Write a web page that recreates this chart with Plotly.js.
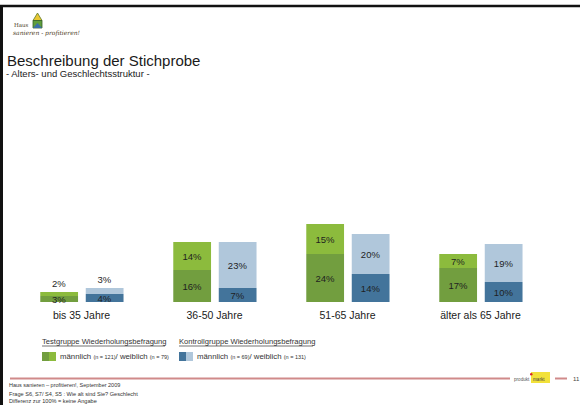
<!DOCTYPE html>
<html>
<head>
<meta charset="utf-8">
<script src="https://cdn.plot.ly/plotly-3.0.1.min.js"></script>
<style>html,body{margin:0;padding:0;background:#fff;}#chart{width:580px;height:405px;}</style>
</head>
<body>
<div id="chart"></div>
<script>
// ---- data ----
const categories = ['bis 35 Jahre', '36-50 Jahre', '51-65 Jahre', 'älter als 65 Jahre'];
const testMale = [3, 16, 24, 17];      // Testgruppe männlich
const testFemale = [2, 14, 15, 7];     // Testgruppe weiblich
const controlMale = [4, 7, 14, 10];    // Kontrollgruppe männlich
const controlFemale = [3, 23, 20, 19]; // Kontrollgruppe weiblich

// ---- layout geometry ----
const W = 580, H = 405;
const M = {l: 15, r: 33, t: 102, b: 103};
const PW = W - M.l - M.r, PH = H - M.t - M.b;
const px = x => (x - M.l) / PW;
const py = y => 1 - (y - M.t) / PH;

const FONT = 'Liberation Sans, Arial, sans-serif';
const C = {g1: '#729e3f', g2: '#8cbb3d', b1: '#43749b', b2: '#b0c7db', txt: '#1f1f1f'};
const pct = v => v + '%';

function barTrace(vals, base, color, offset, positions) {
  return {
    type: 'bar', x: categories, y: vals, base: base,
    offset: offset, width: 0.284,
    marker: {color: color, line: {width: 0}},
    text: vals.map(pct), textposition: positions,
    textfont: {family: FONT, size: 9.5, color: C.txt},
    insidetextfont: {family: FONT, size: 9.5, color: C.txt},
    outsidetextfont: {family: FONT, size: 9.5, color: C.txt},
    insidetextanchor: 'middle', constraintext: 'none', cliponaxis: false,
    hoverinfo: 'skip', showlegend: false
  };
}
const inside = categories.map(() => 'inside');
const topPos = categories.map((c, i) => i === 0 ? 'outside' : 'inside');

const data = [
  barTrace(testMale, undefined, C.g1, -0.31, inside),
  barTrace(testFemale, testMale, C.g2, -0.31, topPos),
  barTrace(controlMale, undefined, C.b1, 0.032, inside),
  barTrace(controlFemale, controlMale, C.b2, 0.032, topPos)
];

const shapes = [
  // page border
  {type: 'line', xref: 'paper', yref: 'paper', x0: px(0), x1: px(580), y0: py(6), y1: py(6), line: {color: '#111', width: 2.5}},
  {type: 'line', xref: 'paper', yref: 'paper', x0: px(1.5), x1: px(1.5), y0: py(5), y1: py(405), line: {color: '#111', width: 3}},
  // house logo
  {type: 'path', xref: 'paper', yref: 'paper', path: `M ${px(37.5)} ${py(13)} L ${px(33)} ${py(20.5)} L ${px(42)} ${py(20.5)} Z`, fillcolor: '#e9c733', line: {color: '#5a7a2a', width: 0.8}},
  {type: 'path', xref: 'paper', yref: 'paper', path: `M ${px(33)} ${py(20.5)} L ${px(42)} ${py(20.5)} L ${px(42)} ${py(28)} L ${px(33)} ${py(28)} Z`, fillcolor: '#5f9e3c', line: {color: '#35602a', width: 0.8}},
  {type: 'path', xref: 'paper', yref: 'paper', path: `M ${px(33)} ${py(28)} L ${px(37.5)} ${py(23)} L ${px(42)} ${py(28)} Z`, fillcolor: '#3b6fa8', line: {width: 0}},
  // legend underlines
  {type: 'line', xref: 'paper', yref: 'paper', x0: px(42), x1: px(165), y0: py(346), y1: py(346), line: {color: '#333', width: 0.7}},
  {type: 'line', xref: 'paper', yref: 'paper', x0: px(179), x1: px(313), y0: py(346), y1: py(346), line: {color: '#333', width: 0.7}},
  // legend swatches
  {type: 'rect', xref: 'paper', yref: 'paper', x0: px(42), x1: px(49), y0: py(352), y1: py(361), fillcolor: C.g1, line: {width: 0}},
  {type: 'rect', xref: 'paper', yref: 'paper', x0: px(49), x1: px(56), y0: py(352), y1: py(361), fillcolor: C.g2, line: {width: 0}},
  {type: 'rect', xref: 'paper', yref: 'paper', x0: px(179), x1: px(186), y0: py(352), y1: py(361), fillcolor: C.b1, line: {width: 0}},
  {type: 'rect', xref: 'paper', yref: 'paper', x0: px(186), x1: px(193), y0: py(352), y1: py(361), fillcolor: C.b2, line: {width: 0}},
  // footer line
  {type: 'line', xref: 'paper', yref: 'paper', x0: px(10), x1: px(510), y0: py(378.5), y1: py(378.5), line: {color: '#d08a8a', width: 2}},
  {type: 'line', xref: 'paper', yref: 'paper', x0: px(555), x1: px(567), y0: py(378.5), y1: py(378.5), line: {color: '#d08a8a', width: 2}},
  // produkt/markt logo
  {type: 'rect', xref: 'paper', yref: 'paper', x0: px(531), x1: px(550), y0: py(372), y1: py(383), fillcolor: '#f2e13a', line: {width: 0}},
  {type: 'circle', xref: 'paper', yref: 'paper', x0: px(530), x1: px(532.5), y0: py(373), y1: py(375.5), fillcolor: '#d8262a', line: {width: 0}}
];

function ann(x, y, text, size, opts) {
  return Object.assign({
    xref: 'paper', yref: 'paper', x: px(x), y: py(y), text: text, showarrow: false,
    xanchor: 'left', yanchor: 'middle', align: 'left', borderpad: 0,
    font: {family: FONT, size: size, color: '#1a1a1a'}
  }, opts || {});
}
const sm = s => `<span style="font-size:5.5px">${s}</span>`;
const grey = (s) => ({family: FONT, size: s, color: '#333'});

const annotations = [
  ann(13, 24.5, 'Haus', 5.5, {font: {family: 'DejaVu Serif, serif', size: 5.5, color: '#4a3a1a'}}),
  ann(12, 32.5, '<i>sanieren - profitieren!</i>', 6, {font: {family: 'DejaVu Serif, serif', size: 6, color: '#4a3a1a'}}),
  ann(6, 60, 'Beschreibung der Stichprobe', 15),
  ann(5, 74, '- Alters- und Geschlechtsstruktur -', 9.5),
  ann(41, 341.5, 'Testgruppe Wiederholungsbefragung', 7.6, {font: grey(7.6)}),
  ann(178, 341.5, 'Kontrollgruppe Wiederholungsbefragung', 7.6, {font: grey(7.6)}),
  ann(59, 356.5, 'männlich ' + sm('(n = 121)') + '/ weiblich ' + sm('(n = 79)'), 7.8, {font: grey(7.8)}),
  ann(196, 356.5, 'männlich ' + sm('(n = 69)') + '/ weiblich ' + sm('(n = 131)'), 7.8, {font: grey(7.8)}),
  ann(8, 385, 'Haus sanieren – profitieren!, September 2009', 5.5, {font: grey(5.5)}),
  ann(8, 394, 'Frage S6, S7/ S4, S5 : Wie alt sind Sie? Geschlecht', 5.6, {font: grey(5.6)}),
  ann(8, 400.5, 'Differenz zur 100% = keine Angabe', 5.6, {font: grey(5.6)}),
  ann(513, 379, 'produkt', 4.6, {font: {family: FONT, size: 4.6, color: '#555'}}),
  ann(532, 379, 'markt', 4.6, {font: {family: FONT, size: 4.6, color: '#444'}}),
  ann(572, 378.5, '11', 6, {font: {family: FONT, size: 6, color: '#444'}})
];

const layout = {
  width: W, height: H,
  margin: M,
  paper_bgcolor: '#fff', plot_bgcolor: '#fff',
  barmode: 'overlay',
  showlegend: false,
  hovermode: false,
  xaxis: {
    type: 'category', showgrid: false, zeroline: false, showline: false, ticks: '',
    tickfont: {family: FONT, size: 10.5, color: '#1a1a1a'}, ticklabelstandoff: 5, fixedrange: true
  },
  yaxis: {
    range: [0, 100], showgrid: false, zeroline: false, showline: false,
    showticklabels: false, ticks: '', fixedrange: true
  },
  shapes: shapes,
  annotations: annotations
};

Plotly.newPlot('chart', data, layout, {displayModeBar: false, staticPlot: true});
</script>
</body>
</html>
